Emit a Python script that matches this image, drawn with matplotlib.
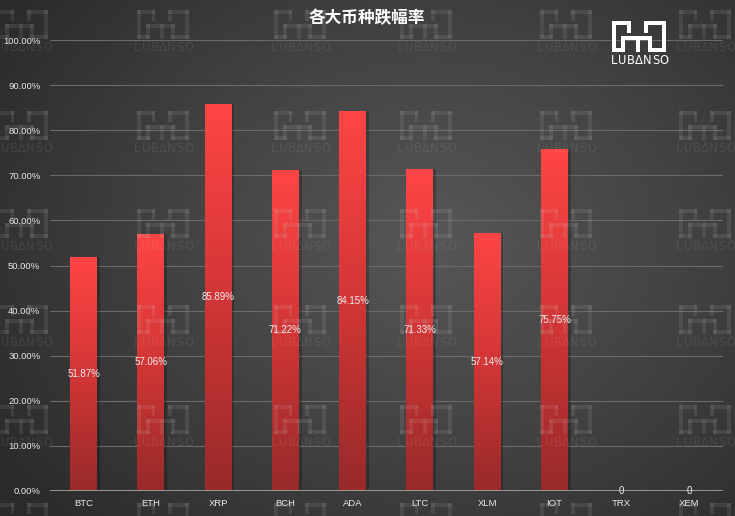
import numpy as np
import matplotlib
matplotlib.use("Agg")
import matplotlib.pyplot as plt
from matplotlib.colors import LinearSegmentedColormap
from matplotlib.patches import Rectangle
from matplotlib.ticker import FuncFormatter, MultipleLocator

# ---- data -------------------------------------------------------------
coins = ["BTC", "ETH", "XRP", "BCH", "ADA", "LTC", "XLM", "IOT", "TRX", "XEM"]
drop_rates = [51.87, 57.06, 85.89, 71.22, 84.15, 71.33, 57.14, 75.75, 0, 0]
value_labels = ["51.87%", "57.06%", "85.89%", "71.22%", "84.15%",
                "71.33%", "57.14%", "75.75%", "0", "0"]
title = "各大币种跌幅率"
brand = "LUBΔNSO"

W, H = 735, 516
fig = plt.figure(figsize=(W / 100, H / 100), dpi=100)

# ---- radial dark background ------------------------------------------
bg = fig.add_axes([0, 0, 1, 1], zorder=-5)
yy, xx = np.mgrid[0:H, 0:W]
r = np.hypot((xx - 430) / 520.0, (yy - 240) / 420.0)
r = np.clip(r, 0, 1)
bg_cmap = LinearSegmentedColormap.from_list("bg", ["#575757", "#424242", "#2a2a2a"])
bg.imshow(r, cmap=bg_cmap, vmin=0, vmax=1, aspect="auto", extent=[0, W, H, 0])
bg.set_xlim(0, W)
bg.set_ylim(H, 0)
bg.axis("off")

# ---- main chart -------------------------------------------------------
ax = fig.add_axes([50 / W, 1 - 491 / H, (722.6 - 50) / W, (491 - 40) / H], zorder=1)
ax.set_facecolor("none")
x = np.arange(len(coins))
bars = ax.bar(x, drop_rates, width=0.4, color="none", zorder=3)

red_cmap = LinearSegmentedColormap.from_list("red", ["#982a2a", "#d23636", "#ff4545"])
grad = np.linspace(0, 1, 256).reshape(-1, 1)
for patch in bars.patches:
    x0, w, h = patch.get_x(), patch.get_width(), patch.get_height()
    if h <= 0:
        continue
    ax.add_patch(Rectangle((x0 + 0.04, 0), w, h, color="black", alpha=0.22,
                           lw=0, zorder=2))
    im = ax.imshow(grad, extent=[x0, x0 + w, 0, h], origin="lower",
                   cmap=red_cmap, aspect="auto", zorder=3)
    im.set_clip_path(patch)

ax.bar_label(bars, labels=value_labels, label_type="center",
             color="#eeeeee", fontsize=7, family="Liberation Sans", zorder=5)

ax.set_xlim(-0.5, len(coins) - 0.5)
ax.set_ylim(0, 100)
ax.yaxis.set_major_locator(MultipleLocator(10))
ax.yaxis.set_major_formatter(FuncFormatter(lambda v, _: f"{v:.2f}%"))
ax.set_xticks(x)
ax.set_xticklabels(coins)
ax.grid(axis="y", color="#6a6a6a", lw=0.8, zorder=0)
ax.axhline(0, color="#a8a8a8", lw=1.2, zorder=4)
for s in ax.spines.values():
    s.set_visible(False)
ax.tick_params(axis="both", length=0, colors="#e8e8e8", labelsize=6.8)
ax.tick_params(axis="y", pad=7)
ax.tick_params(axis="x", pad=6)
for lab in ax.get_xticklabels() + ax.get_yticklabels():
    lab.set_family("Liberation Sans")

fig.text(367 / W, 1 - 18 / H, title, ha="center", va="center", color="white",
         fontsize=12, fontweight="bold", family=["Noto Sans CJK SC", "DejaVu Sans"])

# ---- brand marks ------------------------------------------------------
ov = fig.add_axes([0, 0, 1, 1], zorder=3)
ov.set_xlim(0, W)
ov.set_ylim(H, 0)
ov.axis("off")
ov.patch.set_visible(False)

LOGO_RECTS = [
    (0, 0, 4, 31), (0, 0, 19.3, 4), (15.3, 0, 4, 11.5),
    (0, 26.7, 13.3, 4), (9.3, 15, 4, 15.7), (9.3, 15, 30.7, 4),
    (24.7, 15, 4, 15.7), (36, 15, 4, 15.7), (36, 26.7, 18.7, 4),
    (50.7, 0, 4, 31), (32.7, 0, 22, 4), (32.7, 0, 4, 11.5),
]


def draw_logo(cx, top, scale, color, alpha, text_size, text_width):
    w = 54.7 * scale
    left = cx - w / 2
    for (rx, ry, rw, rh) in LOGO_RECTS:
        ov.add_patch(Rectangle((left + rx * scale, top + ry * scale),
                               rw * scale, rh * scale, color=color,
                               alpha=alpha, lw=0))
    # letter-spaced brand name under the mark
    step = text_width / len(brand)
    for k, ch in enumerate(brand):
        ov.text(cx - text_width / 2 + step * (k + 0.5), top + 39 * scale, ch,
                ha="center", va="center", color=color, alpha=alpha,
                fontsize=text_size, family="DejaVu Sans")


for cy in [10, 111, 209, 305, 405, 503]:
    for cx in [22, 163, 300, 426, 566, 705]:
        draw_logo(cx, cy, 0.95, "#d0d0d0", 0.11, 8.3, 60)

draw_logo(639, 21, 1.0, "white", 1.0, 8.3, 58)

fig.savefig("out.png", dpi=100)
